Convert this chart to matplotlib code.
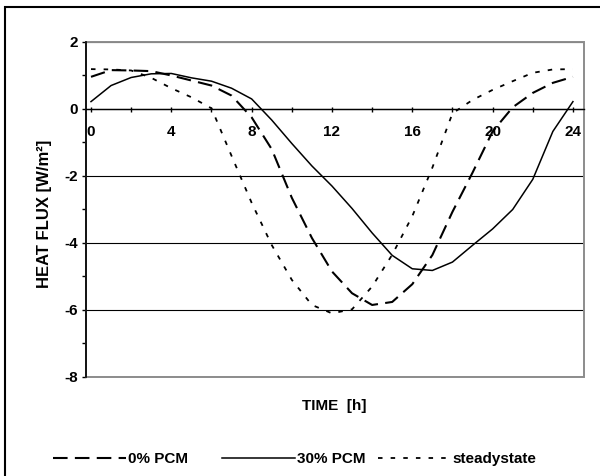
#!/usr/bin/env python3

import matplotlib
matplotlib.use('Agg')
import matplotlib.pyplot as plt
from matplotlib.patches import Rectangle
from matplotlib.ticker import MultipleLocator

plt.rcParams['font.family'] = ['Liberation Sans', 'DejaVu Sans']
plt.rcParams['font.weight'] = 'bold'
plt.rcParams['font.size'] = 11
plt.rcParams['axes.unicode_minus'] = False

hours = list(range(25))
pcm0 = [0.96, 1.16, 1.15, 1.13, 1.0, 0.85, 0.7, 0.4, -0.25, -1.2, -2.65, -3.85,
        -4.85, -5.5, -5.85, -5.76, -5.23, -4.36, -3.07, -1.9, -0.67, 0.05, 0.48,
        0.78, 0.96]
pcm30 = [0.22, 0.7, 0.94, 1.05, 1.06, 0.93, 0.83, 0.62, 0.3, -0.33, -1.03, -1.7,
         -2.3, -2.97, -3.7, -4.37, -4.77, -4.82, -4.57, -4.07, -3.58, -3.0,
         -2.1, -0.67, 0.22]
steady = [1.19, 1.18, 1.15, 0.93, 0.62, 0.35, 0.02, -1.4, -2.8, -4.06, -5.1,
          -5.85, -6.1, -5.98, -5.3, -4.35, -3.2, -1.75, -0.13, 0.27, 0.57, 0.83,
          1.08, 1.18, 1.19]
labels = ['0% PCM', '30% PCM', 'steadystate']


def main():
    fig = plt.figure(figsize=(6, 4.76), dpi=100)
    ax = fig.add_axes([0.1433, 0.208, 0.83, 0.7038])

    l1, = ax.plot(hours, pcm0, color='black', lw=1.5, ls=(0, (7, 3.5)))
    l2, = ax.plot(hours, pcm30, color='black', lw=1.1)
    l3, = ax.plot(hours, steady, color='black', lw=1.3, ls=(0, (2.5, 4.5)))

    ax.set_xlim(-0.25, 24.55)
    ax.set_ylim(-8, 2)

    # x axis crosses at 0, plot frame is grey
    ax.spines['bottom'].set_position(('data', 0))
    ax.spines['bottom'].set_linewidth(1.0)
    ax.spines['left'].set_linewidth(1.2)
    ax.spines['top'].set_visible(False)
    ax.spines['right'].set_visible(False)
    ax.add_patch(Rectangle((0, 0), 1, 1, transform=ax.transAxes, fill=False,
                           edgecolor='#8c8c8c', lw=1.4, clip_on=False, zorder=2))

    ax.xaxis.set_major_locator(MultipleLocator(4))
    ax.xaxis.set_minor_locator(MultipleLocator(2))
    ax.yaxis.set_major_locator(MultipleLocator(2))
    ax.yaxis.set_minor_locator(MultipleLocator(1))
    ax.tick_params(axis='x', which='both', direction='inout', length=3.6,
                   width=1, pad=10)
    ax.tick_params(axis='y', which='both', direction='out', length=3, width=1,
                   pad=3)
    ax.grid(axis='y', color='black', lw=0.8)

    fig.text(45 / 600, 1 - 214 / 476, 'HEAT FLUX [W/m²]', rotation=90,
             ha='center', va='center', fontsize=12)
    fig.text(334 / 600, 1 - 406 / 476, 'TIME  [h]', ha='center', va='center')

    # Excel-style legend: uneven gaps between entries
    for line, label, x in zip((l1, l2, l3), labels, (53, 222, 378)):
        fig.legend([line], [label], loc='center left',
                   bbox_to_anchor=(x / 600, 1 - 459 / 476), frameon=False,
                   handlelength=4.8, handletextpad=0.1, borderaxespad=0,
                   borderpad=0)

    fig.add_artist(Rectangle((5 / 600, -0.1), 1.2, 1 - 7 / 476 + 0.1,
                             transform=fig.transFigure, fill=False,
                             edgecolor='black', lw=1.5))

    fig.savefig('out.png', dpi=100)


if __name__ == "__main__":
    main()
